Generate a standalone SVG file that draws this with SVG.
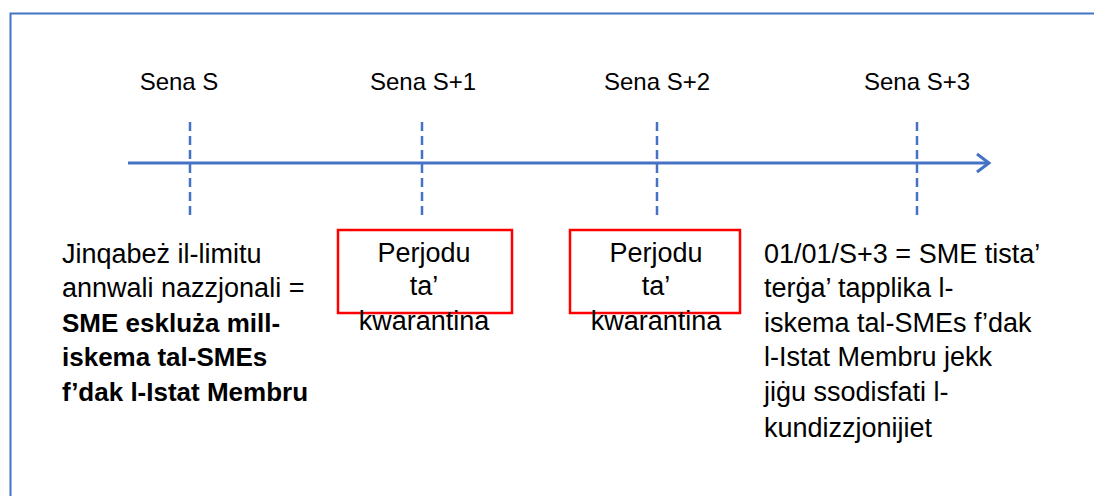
<svg xmlns="http://www.w3.org/2000/svg" width="1094" height="496" viewBox="0 0 1094 496">
<style>
text{font-family:"Liberation Sans",Arial,sans-serif;fill:#000;}
.lbl{font-size:24px;text-anchor:middle;}
.t{font-size:27px;}
.c{text-anchor:middle;}
.b{font-weight:bold;font-size:26px;}
.tick{stroke:#4472C4;stroke-width:2.5;stroke-dasharray:9 5;fill:none;}
.box{fill:none;stroke:#FF0000;stroke-width:2.5;}
</style>
<rect x="10.5" y="13.5" width="1200" height="600" fill="#fff" stroke="#4472C4" stroke-width="2"/>
<g id="connectors">
<line x1="128" y1="163" x2="988" y2="163" stroke="#4472C4" stroke-width="3"/>
<polyline points="977,154 989,163 977,172" fill="none" stroke="#4472C4" stroke-width="3"/>
<line class="tick" x1="190" y1="122" x2="190" y2="216"/>
<line class="tick" x1="422" y1="122" x2="422" y2="216"/>
<line class="tick" x1="657" y1="122" x2="657" y2="216"/>
<line class="tick" x1="917" y1="122" x2="917" y2="216"/>
</g>
<g id="label-s"><text class="lbl" x="179" y="90">Sena S</text></g>
<g id="label-s1"><text class="lbl" x="423" y="90">Sena S+1</text></g>
<g id="label-s2"><text class="lbl" x="657" y="90">Sena S+2</text></g>
<g id="label-s3"><text class="lbl" x="917" y="90">Sena S+3</text></g>
<g id="left-text">
<text class="t" x="62" y="263">Jinqabeż il-limitu</text>
<text class="t" x="62" y="297">annwali nazzjonali =</text>
<text class="t b" x="62" y="332">SME eskluża mill-</text>
<text class="t b" x="62" y="366">iskema tal-SMEs</text>
<text class="t b" x="62" y="401">f’dak l-Istat Membru</text>
</g>
<g id="quarantine-1">
<rect class="box" x="338" y="230" width="174" height="83"/>
<text class="t c" x="424" y="262">Perjodu</text>
<text class="t c" x="424" y="295">ta’</text>
<text class="t c" x="424" y="330">kwarantina</text>
</g>
<g id="quarantine-2">
<rect class="box" x="570" y="230" width="170" height="83"/>
<text class="t c" x="656" y="262">Perjodu</text>
<text class="t c" x="656" y="295">ta’</text>
<text class="t c" x="656" y="330">kwarantina</text>
</g>
<g id="right-text">
<text class="t" x="764" y="263">01/01/S+3 = SME tista’</text>
<text class="t" x="764" y="297">terġa’ tapplika l-</text>
<text class="t" x="764" y="332">iskema tal-SMEs f’dak</text>
<text class="t" x="764" y="366">l-Istat Membru jekk</text>
<text class="t" x="764" y="401">jiġu ssodisfati l-</text>
<text class="t" x="764" y="437">kundizzjonijiet</text>
</g>
</svg>
